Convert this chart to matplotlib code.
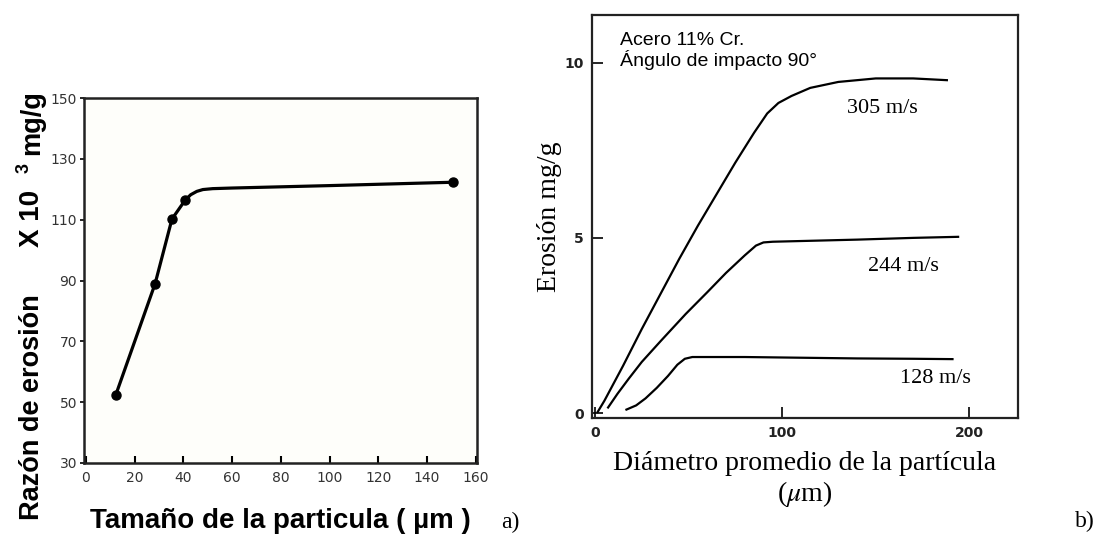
import numpy as np
import matplotlib.pyplot as plt

plt.rcParams['mathtext.fontset'] = 'stix'

# Panel a: erosion rate vs particle size (points + hand-drawn curve)
size_pts = [12.3, 28.4, 35.3, 40.7, 150.5]
rate_pts = [52.5, 89.0, 110.2, 116.4, 122.3]
size_curve = [12.3, 28.4, 35.3, 40.7, 43, 45.5, 48, 52, 60, 100, 150.5]
rate_curve = [52.5, 89.0, 110.2, 116.4, 118.2, 119.3, 119.9, 120.2, 120.4, 121.2, 122.3]

# Panel b: erosion vs mean particle diameter for three impact velocities
d_305 = [1.4, 5, 10, 15, 25, 35, 45, 55, 65, 75, 85, 92, 98, 105, 115, 130, 150, 170, 188]
e_305 = [0.03, 0.35, 0.85, 1.35, 2.4, 3.4, 4.4, 5.35, 6.25, 7.15, 8.0, 8.55, 8.85, 9.05,
         9.28, 9.45, 9.55, 9.55, 9.5]
d_244 = [7, 12, 18, 25, 35, 48.5, 60, 70, 80, 86, 90, 95, 110, 140, 170, 194]
e_244 = [0.16, 0.55, 0.98, 1.46, 2.05, 2.83, 3.45, 4.0, 4.5, 4.78, 4.87, 4.89, 4.91,
         4.95, 5.0, 5.03]
d_128 = [16.8, 22, 27, 33, 39, 44, 48, 52, 80, 110, 140, 170, 191]
e_128 = [0.1, 0.22, 0.42, 0.72, 1.06, 1.38, 1.55, 1.6, 1.6, 1.58, 1.56, 1.55, 1.54]
speed_labels = ["305 m/s", "244 m/s", "128 m/s"]
label_pos = [(153.3, 8.70), (164.8, 4.19), (181.7, 0.98)]

fig = plt.figure(figsize=(11.01, 5.36), dpi=100)

# ---- panel a ----
ax_a = fig.add_axes([84 / 1101, 1 - 463 / 536, 393 / 1101, 365 / 536])
ax_a.set_facecolor('#fefefa')
ax_a.plot(size_curve, rate_curve, color='black', lw=2.3)
ax_a.plot(size_pts, rate_pts, 'o', color='black', ms=6.5)
ax_a.set_xlim(-0.8, 160.5)
ax_a.set_ylim(30, 150)
ax_a.set_xticks(np.arange(0, 161, 20))
ax_a.set_yticks(np.arange(30, 151, 20))
ax_a.tick_params(axis='x', direction='in', length=5, width=1.5, pad=6,
                 labelsize=10, labelcolor='#333333')
ax_a.tick_params(axis='y', direction='out', length=3, width=1.2, pad=2,
                 labelsize=10, labelcolor='#333333')
for sp in ax_a.spines.values():
    sp.set_linewidth(1.8)
    sp.set_color('#222222')
ax_a.set_xlabel("Tamaño de la particula ( µm )", fontsize=20, fontweight='bold',
                family='Liberation Sans', labelpad=16)
# rotated y-label made of pieces
fig.text(32 / 1101, 1 - 407 / 536, "Razón de erosión", rotation=90, fontsize=19.5,
         fontweight='bold', family='Liberation Sans', ha='center', va='center')
fig.text(32 / 1101, 1 - 218 / 536, "X 10", rotation=90, fontsize=20,
         fontweight='bold', family='Liberation Sans', ha='center', va='center')
fig.text(24 / 1101, 1 - 168 / 536, "3", rotation=90, fontsize=13,
         fontweight='bold', family='Liberation Sans', ha='center', va='center')
fig.text(32 / 1101, 1 - 123 / 536, "mg/g", rotation=90, fontsize=19.5,
         fontweight='bold', family='Liberation Sans', ha='center', va='center')
fig.text(510 / 1101, 1 - 522 / 536, "a)", fontsize=17, family='Liberation Serif',
         ha='center', va='center')

# ---- panel b ----
ax_b = fig.add_axes([592 / 1101, 1 - 418 / 536, 426 / 1101, 403 / 536])
for d, e in [(d_305, e_305), (d_244, e_244), (d_128, e_128)]:
    ax_b.plot(d, e, color='black', lw=1.6)
for lab, (x, y) in zip(speed_labels, label_pos):
    ax_b.text(x, y, lab, fontsize=16, family='Liberation Serif', ha='center', va='center')
ax_b.set_xlim(-1.6, 226)
ax_b.set_ylim(-0.14, 11.36)
ax_b.set_xticks([0, 100, 200])
ax_b.set_yticks([0, 5, 10])
ax_b.tick_params(axis='both', direction='in', length=8, width=1.2, pad=6,
                 labelsize=10, labelcolor='#222222')
for lab in ax_b.get_xticklabels() + ax_b.get_yticklabels():
    lab.set_fontweight('bold')
for sp in ax_b.spines.values():
    sp.set_linewidth(1.6)
    sp.set_color('#222222')
ax_b.text(13.3, 10.88, "Acero 11% Cr.\nÁngulo de impacto 90°", fontsize=14,
          family='Liberation Sans', ha='left', va='top', linespacing=1.1)
ax_b.set_ylabel("Erosión mg/g", fontsize=20, family='Liberation Serif', labelpad=2)
ax_b.set_xlabel("Diámetro promedio de la partícula\n($\\mu$m)", fontsize=20,
                family='Liberation Serif', labelpad=8, linespacing=1.1)
fig.text(1085 / 1101, 1 - 521 / 536, "b)", fontsize=17, family='Liberation Serif',
         ha='center', va='center')

fig.savefig("out.png", dpi=100)
